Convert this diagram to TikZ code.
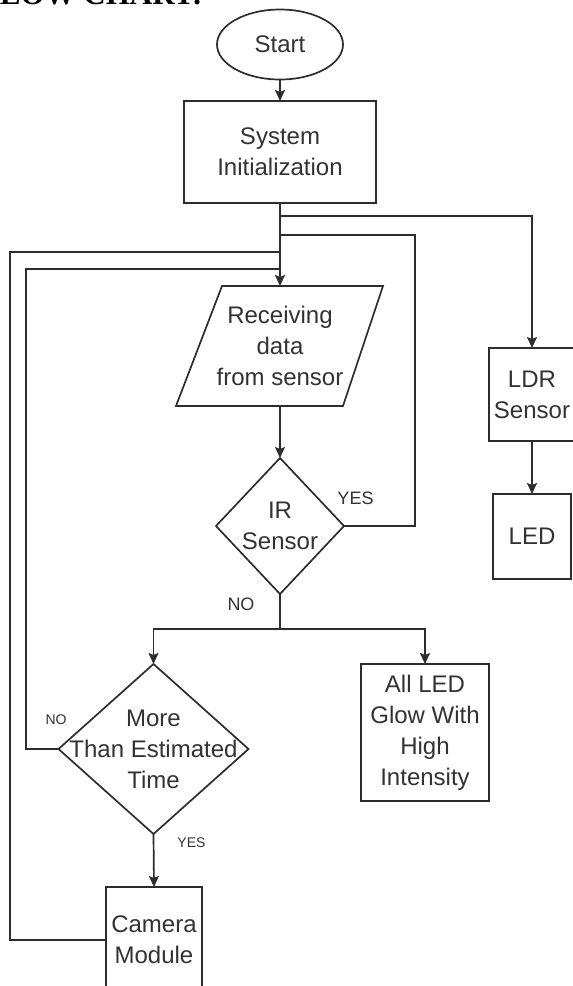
\documentclass[tikz,border=0pt]{standalone}
\usepackage{fontspec}
\setmainfont{Liberation Sans}
\newfontfamily\headfont{Liberation Serif}
\usetikzlibrary{shapes.geometric,arrows.meta,calc}
\definecolor{ln}{RGB}{45,45,45}
\definecolor{tx}{RGB}{50,50,50}
\begin{document}
\begin{tikzpicture}[x=1pt,y=-1pt,
  every node/.style={text=tx, font=\fontsize{24}{31}\selectfont, align=center, inner sep=0pt, outer sep=0pt},
  line/.style={draw=ln, line width=1.7pt},
  arr/.style={line, -{Stealth[length=11pt,width=10pt,inset=2pt]}},
  boxed/.style={draw=ln, line width=1.7pt, rectangle},
  lbl/.style={font=\fontsize{18}{20}\selectfont},
  slbl/.style={font=\fontsize{14}{16}\selectfont}]
\useasboundingbox (0,0) rectangle (573,986);

% heading (cut off at the top of the picture)
\node[anchor=base west, font=\headfont\bfseries\fontsize{31}{34}\selectfont, text=black] (head) at (-19,4) {FLOW CHART:};

% nodes
\node[ellipse, draw=ln, line width=1.7pt, minimum width=126, minimum height=70] (start) at (280,44.5) {Start};
\node[boxed, minimum width=192, minimum height=102] (sys) at (280,152) {System\\Initialization};
\node[minimum width=161, minimum height=120] (recv) at (280,346) {Receiving\\data\\from sensor};
\draw[line] (222,286) -- (383,286) -- (343,406) -- (176,406) -- cycle;
\node[minimum width=128, minimum height=136] (ir) at (280,526) {IR\\Sensor};
\draw[line] (ir.north) -- (ir.east) -- (ir.south) -- (ir.west) -- cycle;
\node[minimum width=190, minimum height=170] (more) at (153.5,749) {More\\Than Estimated\\Time};
\draw[line] (more.north) -- (more.east) -- (more.south) -- (more.west) -- cycle;
\node[boxed, minimum width=128, minimum height=137] (allled) at (425,732.5) {All LED\\Glow With\\High\\Intensity};
\node[boxed, minimum width=96, minimum height=106] (cam) at (154,940) {Camera\\Module};
\node[boxed, minimum width=86, minimum height=93] (ldr) at (532,394.5) {LDR\\Sensor};
\node[boxed, minimum width=78, minimum height=85] (led) at (532,536.5) {LED};

% junction coordinates
\coordinate (j1) at (280,216);
\coordinate (j2) at (280,235);
\coordinate (j3) at (280,252);
\coordinate (j4) at (280,269);
\coordinate (yesc) at (415,235);
\coordinate (outc) at (10,252);
\coordinate (innc) at (26,269);
\coordinate (split) at (280,629);

% connectors
\draw[arr] (start.south) -- (sys.north);
\draw[arr] (sys.south) -- (recv.north);
\draw[arr] (j1) -| (ldr.north);
\draw[arr] (ldr.south) -- (led.north);
\draw[arr] (recv.south) -- (ir.north);
\draw[line] (ir.east) -| (yesc) -- (j2);
\draw[line] (ir.south) -- (split);
\draw[arr] (split) -| (more.north);
\draw[arr] (split) -| (allled.north);
\draw[line] (more.west) -| (innc) -- (j4);
\draw[arr] (more.south) -- (cam.north);
\draw[line] (cam.west) -| (outc) -- (j3);

% labels
\node[lbl] (lyes) at (355.5,498) {YES};
\node[lbl] (lno) at (241,604) {NO};
\node[slbl] (lno2) at (56,720) {NO};
\node[slbl] (lyes2) at (191.5,843) {YES};
\end{tikzpicture}
\end{document}
